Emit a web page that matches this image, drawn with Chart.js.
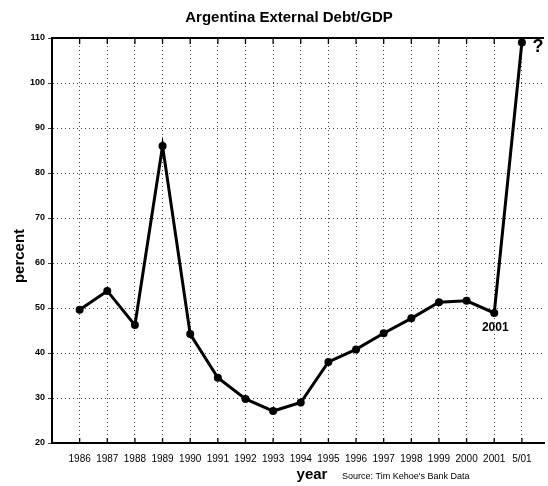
<!DOCTYPE html>
<html>
<head>
<meta charset="utf-8">
<script src="https://cdn.jsdelivr.net/npm/chart.js@4"></script>
<style>
  html, body { margin: 0; padding: 0; background: #fff; overflow: hidden; }
  #wrap { width: 548px; height: 486px; }
</style>
</head>
<body>
<div id="wrap"><canvas id="debtChart"></canvas></div>
<script>
// values
const years = ['1986', '1987', '1988', '1989', '1990', '1991', '1992', '1993', '1994',
               '1995', '1996', '1997', '1998', '1999', '2000', '2001', '5/01'];
const debtPct = [49.6, 53.8, 46.2, 86.0, 44.2, 34.5, 29.8, 27.1, 29.0,
                 38.0, 40.8, 44.4, 47.7, 51.3, 51.6, 48.9, 109];
const yTicks = [20, 30, 40, 50, 60, 70, 80, 90, 100, 110];

const FONT = "'Liberation Sans', Arial, Helvetica, sans-serif";

// frame top line, inward tick marks and the loose text labels
const extras = {
    id: 'extras',
    afterDraw(chart) {
        const { ctx, chartArea: a, scales: { x, y } } = chart;
        ctx.save();
        ctx.strokeStyle = '#000';
        ctx.lineWidth = 2;
        ctx.beginPath();
        ctx.moveTo(a.left, a.top);
        ctx.lineTo(a.right, a.top);
        ctx.stroke();

        ctx.lineWidth = 1.3;
        ctx.beginPath();
        years.forEach((_, i) => {
            const px = x.getPixelForValue(i);
            ctx.moveTo(px, a.top);
            ctx.lineTo(px, a.top + 6);
            ctx.moveTo(px, a.bottom);
            ctx.lineTo(px, a.bottom - 5);
        });
        ctx.stroke();

        ctx.fillStyle = '#000';
        ctx.textAlign = 'center';
        ctx.textBaseline = 'middle';

        ctx.font = 'bold 15px ' + FONT;
        ctx.fillText('Argentina External Debt/GDP', 289, 18);

        ctx.save();
        ctx.translate(20, 256);
        ctx.rotate(-Math.PI / 2);
        ctx.font = 'bold 15px ' + FONT;
        ctx.fillText('percent', 0, 0);
        ctx.restore();

        ctx.font = 'bold 15px ' + FONT;
        ctx.fillText('year', 312, 475);

        ctx.textAlign = 'left';
        ctx.font = '9px ' + FONT;
        ctx.fillText("Source: Tim Kehoe's Bank Data", 342, 477);

        // callouts next to the last two points
        const i01 = years.indexOf('2001');
        ctx.textAlign = 'center';
        ctx.font = 'bold 12px ' + FONT;
        ctx.fillText('2001', x.getPixelForValue(i01) + 1, y.getPixelForValue(debtPct[i01]) + 15);

        const iLast = years.length - 1;
        ctx.font = 'bold 18px ' + FONT;
        ctx.fillText('?', x.getPixelForValue(iLast) + 16, y.getPixelForValue(debtPct[iLast]) + 5);
        ctx.restore();
    }
};

const ctx = document.getElementById('debtChart').getContext('2d');
const debtChart = new Chart(ctx, {
    type: 'line',
    data: {
        datasets: [{
            data: debtPct.map((v, i) => ({ x: i, y: v })),
            borderColor: '#000',
            backgroundColor: '#000',
            borderWidth: 3,
            pointRadius: 4,
            pointBackgroundColor: '#000',
            pointBorderWidth: 0,
            tension: 0,
            clip: false
        }]
    },
    options: {
        responsive: true,
        maintainAspectRatio: false,
        animation: false,
        layout: { padding: { top: 38, right: 0, left: 0, bottom: 0 } },
        plugins: {
            legend: { display: false },
            title: { display: false },
            tooltip: { enabled: false }
        },
        scales: {
            x: {
                type: 'linear',
                min: -1,
                max: 16.8,
                afterFit: s => { s.height = 43; },
                afterBuildTicks: s => { s.ticks = years.map((_, i) => ({ value: i })); },
                grid: {
                    color: 'rgba(0,0,0,0.75)',
                    lineWidth: 1,
                    drawTicks: false
                },
                border: { display: true, color: '#000', width: 2, dash: [1, 3] },
                ticks: {
                    autoSkip: false,
                    maxRotation: 0,
                    padding: 10,
                    color: '#000',
                    font: { family: FONT, size: 10 },
                    callback: v => years[v] ?? ''
                }
            },
            y: {
                min: 20,
                max: 110,
                afterFit: s => { s.width = 52; },
                afterBuildTicks: s => { s.ticks = yTicks.map(v => ({ value: v })); },
                grid: {
                    color: 'rgba(0,0,0,0.75)',
                    lineWidth: 1,
                    tickLength: 4,
                    tickBorderDash: []
                },
                border: { display: true, color: '#000', width: 2, dash: [1, 3] },
                ticks: {
                    padding: 3,
                    color: '#000',
                    font: { family: FONT, size: 9, weight: 'bold' }
                }
            }
        }
    },
    plugins: [extras]
});
</script>
</body>
</html>
